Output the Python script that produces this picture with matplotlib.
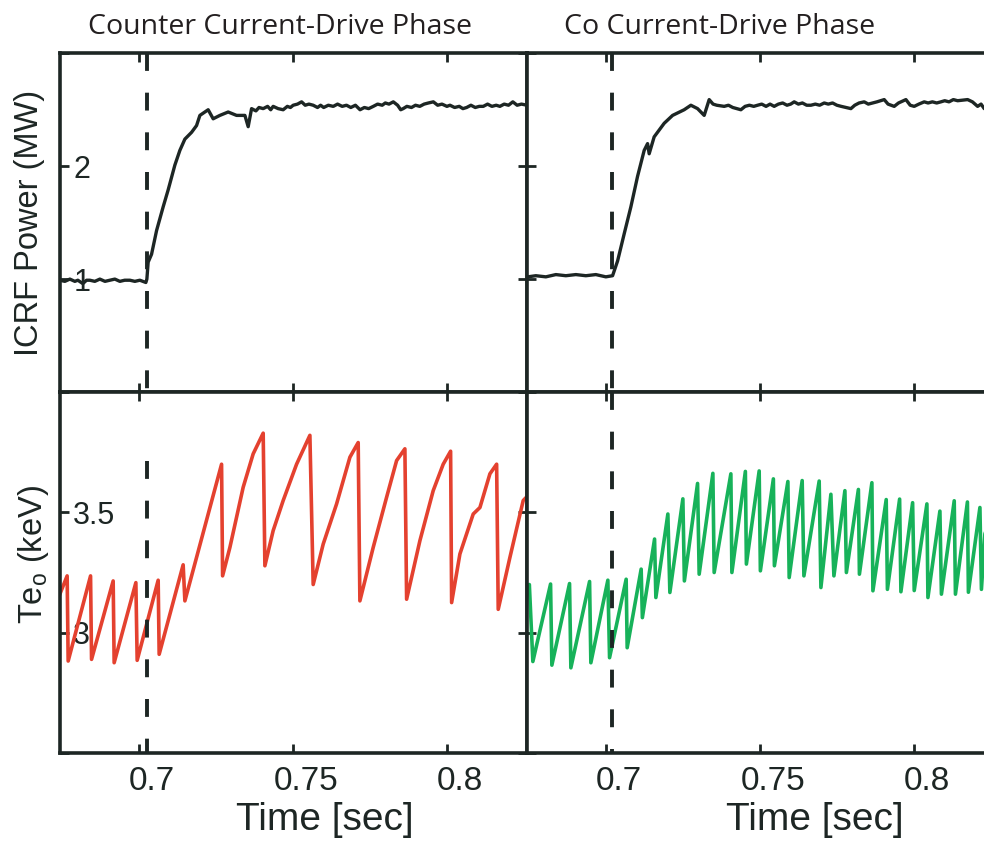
import matplotlib
matplotlib.use("Agg")
from matplotlib import pyplot as plt
from matplotlib.transforms import ScaledTranslation

# ICRF power, counter current-drive phase (MW)
ctr_power_t = [0.67435, 0.67597, 0.67760, 0.67922, 0.68020, 0.68182, 0.68300, 0.68409, 0.68570,
               0.68734, 0.68900, 0.69058, 0.69220, 0.69383, 0.69540, 0.69708, 0.69870, 0.70032,
               0.70227, 0.70260, 0.70302, 0.70412, 0.70575, 0.70789, 0.70951, 0.71169, 0.71331,
               0.71494, 0.71711, 0.71873, 0.71981, 0.72250, 0.72412, 0.72630, 0.72899, 0.73172,
               0.73442, 0.73549,
               0.73659, 0.7380, 0.7390, 0.74036, 0.7418, 0.7428, 0.7436, 0.7452, 0.74685, 0.7482,
               0.7492, 0.7501, 0.7515, 0.75283, 0.7540, 0.7552, 0.75659, 0.7580, 0.7590, 0.7600,
               0.7615, 0.7631, 0.7645, 0.7660, 0.7674, 0.7688, 0.7703, 0.7718, 0.7732, 0.7746,
               0.7761, 0.7775, 0.7790, 0.7800, 0.7812, 0.7826, 0.7840, 0.7850, 0.7858, 0.7870,
               0.7885, 0.7898, 0.7912, 0.7926, 0.7940, 0.7956, 0.7970, 0.7984, 0.8000, 0.8010,
               0.8025, 0.8040, 0.8052, 0.8064, 0.8078, 0.8092, 0.8105, 0.8118, 0.8132, 0.8146,
               0.8160, 0.8172, 0.8186, 0.8200, 0.8214, 0.8228, 0.8242, 0.8260]
ctr_power = [0.99, 0.98, 1.00, 0.98, 0.99, 0.96, 0.99, 0.99, 0.98,
             1.00, 0.98, 0.99, 1.00, 0.98, 0.99, 0.99, 0.98, 0.99,
             0.97, 1.00, 1.15, 1.22, 1.43, 1.64, 1.79, 2.01, 2.14,
             2.24, 2.30, 2.36, 2.45, 2.50, 2.42, 2.45, 2.48, 2.45,
             2.45, 2.35,
             2.51, 2.49, 2.52, 2.51, 2.53, 2.50, 2.53, 2.51, 2.50, 2.53,
             2.52, 2.54, 2.55, 2.57, 2.54, 2.55, 2.54, 2.52, 2.54, 2.52,
             2.54, 2.53, 2.55, 2.53, 2.54, 2.52, 2.54, 2.50, 2.52, 2.51,
             2.53, 2.55, 2.54, 2.56, 2.55, 2.57, 2.54, 2.50, 2.51, 2.53,
             2.52, 2.54, 2.53, 2.55, 2.56, 2.57, 2.54, 2.55, 2.53, 2.54,
             2.52, 2.53, 2.51, 2.52, 2.54, 2.52, 2.53, 2.53, 2.55, 2.53,
             2.54, 2.53, 2.55, 2.54, 2.57, 2.54, 2.55, 2.54]

# ICRF power, co current-drive phase (MW)
co_power_t = [0.67468, 0.67727, 0.68052, 0.68377, 0.68701, 0.69026, 0.69351, 0.69675, 0.70000,
              0.70218, 0.70380, 0.70594, 0.70812, 0.71029, 0.71244, 0.71354, 0.71406, 0.71568,
              0.71893, 0.72166, 0.72542, 0.72760, 0.72977, 0.73192,
              0.73354, 0.7348, 0.7360, 0.73841, 0.7398, 0.7412, 0.74383, 0.7452, 0.7466, 0.7480,
              0.74925, 0.7506, 0.7520, 0.7533, 0.75464, 0.7560, 0.7574, 0.7588, 0.7600, 0.76114,
              0.7625, 0.7638, 0.7652, 0.76656, 0.7680, 0.7694, 0.77088, 0.7722, 0.7736, 0.7750,
              0.7764, 0.77955, 0.7808, 0.7822, 0.78387, 0.7852, 0.7866, 0.7880, 0.79036, 0.7916,
              0.79361, 0.7950, 0.79740, 0.7988, 0.80010, 0.8016, 0.80335, 0.8046, 0.8060, 0.8074,
              0.80877, 0.8100, 0.8114, 0.8128, 0.81419, 0.81744, 0.8190, 0.82068, 0.8218, 0.82283,
              0.8245, 0.8260]
co_power = [1.02, 1.03, 1.02, 1.04, 1.03, 1.04, 1.03, 1.04, 1.02,
            1.03, 1.16, 1.40, 1.64, 1.91, 2.14, 2.20, 2.11, 2.26,
            2.38, 2.45, 2.50, 2.54, 2.51, 2.45,
            2.59, 2.55, 2.54, 2.53, 2.54, 2.52, 2.50, 2.53, 2.54, 2.53,
            2.54, 2.55, 2.53, 2.55, 2.53, 2.55, 2.56, 2.54, 2.55, 2.57,
            2.55, 2.56, 2.54, 2.54, 2.55, 2.54, 2.56, 2.55, 2.56, 2.54,
            2.53, 2.51, 2.54, 2.56, 2.57, 2.55, 2.56, 2.57, 2.59, 2.55,
            2.53, 2.56, 2.59, 2.54, 2.53, 2.55, 2.57, 2.56, 2.57, 2.56,
            2.57, 2.58, 2.57, 2.59, 2.58, 2.59, 2.57, 2.53, 2.55, 2.51,
            2.54, 2.54]

# central electron temperature, counter phase (keV)
ctr_te_t = [0.67435, 0.67672, 0.67705, 0.68432, 0.68464, 0.69166, 0.69198, 0.69903, 0.69945,
            0.70627, 0.70659, 0.71438, 0.71494, 0.72685, 0.72718, 0.72955, 0.73386, 0.73711,
            0.74036, 0.74091, 0.74360, 0.74685, 0.75120, 0.75552, 0.75659, 0.75984, 0.76419,
            0.76851, 0.77120, 0.77175, 0.77607, 0.78042, 0.78367, 0.78636, 0.78692, 0.79123,
            0.79555, 0.79880, 0.80120, 0.80153, 0.80422, 0.80854, 0.81072, 0.81396, 0.81614,
            0.81666, 0.82045, 0.82477, 0.82597]
ctr_te = [3.16, 3.236, 2.882, 3.236, 2.889, 3.215, 2.875, 3.208, 2.885, 3.218, 2.91, 3.282,
          3.132, 3.70, 3.236, 3.354, 3.604, 3.743, 3.829, 3.278, 3.424, 3.549, 3.70, 3.82, 3.20,
          3.368, 3.535, 3.729, 3.79, 3.132, 3.354, 3.5625, 3.715, 3.764, 3.139, 3.382, 3.59,
          3.70, 3.754, 3.125, 3.327, 3.493, 3.52, 3.66, 3.70, 3.097, 3.3125, 3.549, 3.565]

# central electron temperature, co phase (keV)
co_te_t = [0.67468, 0.67516, 0.67630, 0.68205, 0.68247, 0.68821, 0.68864, 0.69471, 0.69513,
           0.70065, 0.70120, 0.70659, 0.70692, 0.71146, 0.71185, 0.71581, 0.71623, 0.72013,
           0.72078, 0.72500, 0.72549, 0.72977, 0.73029, 0.73474, 0.73516, 0.74058, 0.74091,
           0.74529, 0.74562, 0.74977, 0.75016, 0.75438, 0.75471, 0.75909, 0.75951, 0.76373,
           0.76429, 0.76925, 0.76981, 0.77305, 0.77403, 0.77760, 0.77808, 0.78198, 0.78231,
           0.78636, 0.78669, 0.79101, 0.79140, 0.79536, 0.79578, 0.79958, 0.80010, 0.80422,
           0.80455, 0.80844, 0.80893, 0.81309, 0.81348, 0.81737, 0.81769, 0.82143, 0.82192,
           0.82305, 0.82550]
co_te = [3.17, 3.20, 2.88, 3.202, 2.865, 3.204, 2.854, 3.2125, 2.875, 3.218, 2.896, 3.222,
         2.9375, 3.264, 3.0625, 3.389, 3.146, 3.493, 3.167, 3.556, 3.215, 3.62, 3.243, 3.662,
         3.25, 3.66, 3.25, 3.67, 3.285, 3.672, 3.257, 3.639, 3.278, 3.628, 3.229, 3.632, 3.236,
         3.63, 3.1875, 3.575, 3.236, 3.59, 3.25, 3.595, 3.243, 3.623, 3.174, 3.553, 3.18, 3.555,
         3.17, 3.54, 3.175, 3.535, 3.146, 3.505, 3.16, 3.548, 3.16, 3.543, 3.168, 3.52, 3.18,
         3.41, 3.50]

titles = ["Counter Current-Drive Phase", "Co Current-Drive Phase"]
switch_times = [0.7026, 0.7019]  # dashed markers

x_ticks = [0.7, 0.75, 0.8]
x_ticklabels = ["0.7", "0.75", "0.8"]
p_ticks = [0, 1, 2, 3]
p_ticklabels = ["", "1", "2", ""]
te_ticks = [2.5, 3.0, 3.5, 4.0]
te_ticklabels = ["", "3", "3.5", ""]

INK = "#1d2624"
RED = "#e4412f"
GREEN = "#17b25a"

plt.rcParams["font.family"] = ["Liberation Sans", "DejaVu Sans"]
plt.rcParams["mathtext.fontset"] = "custom"
plt.rcParams["mathtext.rm"] = "Liberation Sans"
plt.rcParams["mathtext.it"] = "Liberation Sans"

fig = plt.figure(figsize=(9.84, 8.44), dpi=100)

W = 467 / 984
lefts = [60 / 984, 527 / 984]
top_axes = [fig.add_axes([x0, 452 / 844, W, 338.7 / 844]) for x0 in lefts]
bot_axes = [fig.add_axes([x0, 91 / 844, W, 361 / 844]) for x0 in lefts]

xlo, xhi = 0.6744, 0.8260


def style(ax, yticks, ylabels, show_ylab, show_xlab):
    ax.set_xlim(xlo, xhi)
    ax.set_xticks(x_ticks)
    ax.set_yticks(yticks)
    ax.set_yticklabels(ylabels if show_ylab else [""] * len(yticks))
    ax.set_xticklabels(x_ticklabels if show_xlab else [""] * len(x_ticks))
    ax.tick_params(direction="in", length=6.5, width=2, top=True, right=True, colors=INK)
    ax.tick_params(axis="y", pad=-9.5, labelsize=22)
    ax.tick_params(axis="x", pad=9, labelsize=24)
    for sp in ax.spines.values():
        sp.set_linewidth(2.6)
        sp.set_color(INK)
    for lbl in ax.get_yticklabels():
        lbl.set_ha("left")
    shift = ScaledTranslation(0.13, 0, fig.dpi_scale_trans)
    for lbl in ax.get_xticklabels():
        lbl.set_transform(lbl.get_transform() + shift)


# top row: ICRF power
top_axes[0].plot(ctr_power_t, ctr_power, color=INK, lw=2.4)
top_axes[1].plot(co_power_t, co_power, color=INK, lw=2.4)
for i, ax in enumerate(top_axes):
    ax.set_ylim(0, 3)
    ax.plot([switch_times[i]] * 2, [1, 0], transform=ax.get_xaxis_transform(),
            color=INK, lw=2.8, linestyle=(0, (4.6, 5.6)))
    style(ax, p_ticks, p_ticklabels, i == 0, False)

# bottom row: Te0
bot_axes[0].plot(ctr_te_t, ctr_te, color=RED, lw=2.6)
bot_axes[1].plot(co_te_t, co_te, color=GREEN, lw=2.6)
for i, ax in enumerate(bot_axes):
    ax.set_ylim(2.5, 4.0)
    y_top = 0.81 if i == 0 else 1.0
    ax.plot([switch_times[i]] * 2, [y_top, 0], transform=ax.get_xaxis_transform(),
            color=INK, lw=2.8, linestyle=(0, (4.6, 5.6)))
    style(ax, te_ticks, te_ticklabels, i == 0, True)

top_axes[0].set_ylabel("ICRF Power (MW)", fontsize=23.5, color=INK)
top_axes[0].yaxis.set_label_coords(-0.032, 0.5)
bot_axes[0].set_ylabel(r"Te$_\mathregular{o}$ (keV)", fontsize=23.5, color=INK)
bot_axes[0].yaxis.set_label_coords(-0.02, 0.55)

for ax, xc in zip(bot_axes, [0.567, 0.617]):
    ax.set_xlabel("Time [sec]", fontsize=28, color=INK)
    ax.xaxis.set_label_coords(xc, -0.135)

for title, xc in zip(titles, [280 / 984, 720 / 984]):
    fig.text(xc, 1 - 27 / 844, title, ha="center", va="center", fontsize=20.5,
             family=["Open Sans", "DejaVu Sans"], color="#231f20")

fig.savefig("out.png", dpi=100)
